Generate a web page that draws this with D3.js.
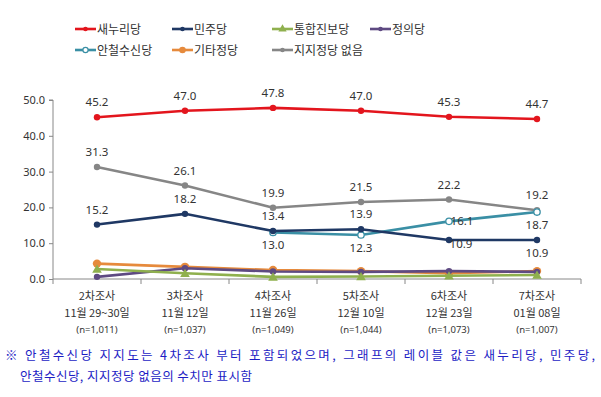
<!DOCTYPE html>
<html><head><meta charset="utf-8">
<script src="https://cdn.jsdelivr.net/npm/d3@7"></script>
<style>
body{margin:0;background:#fff;}
svg{display:block;font-family:"Noto Sans CJK KR","Noto Sans",sans-serif;}
</style></head><body>
<svg id="c" width="601" height="397"></svg>
<script>
const surveys = ["2차조사","3차조사","4차조사","5차조사","6차조사","7차조사"];
const dates = ["11월 29~30일","11월 12일","11월 26일","12월 10일","12월 23일","01월 08일"];
const samples = ["(n=1,011)","(n=1,037)","(n=1,049)","(n=1,044)","(n=1,073)","(n=1,007)"];
const yTicks = [0,10,20,30,40,50];

const saenuri = [45.2,47.0,47.8,47.0,45.3,44.7];
const minju = [15.2,18.2,13.4,13.9,10.9,10.9];
const tonghap = [2.8,1.6,0.6,0.7,0.9,1.1];
const jeongui = [0.6,3.0,2.1,2.0,2.2,2.0];
const ahn = [null,null,13.0,12.3,16.1,18.7];
const others = [4.3,3.4,2.5,2.2,1.6,2.2];
const noParty = [31.3,26.1,19.9,21.5,22.2,19.2];

const footnote1 = "※ 안철수신당 지지도는 4차조사 부터 포함되었으며, 그래프의 레이블 값은 새누리당, 민주당,";
const footnote2 = "안철수신당, 지지정당 없음의 수치만 표시함";

const series = [
  {name:"새누리당", values:saenuri, color:"#e3151d", marker:"dot", labels:["a","a","a","a","a","a"]},
  {name:"민주당", values:minju, color:"#1f3864", marker:"dot", labels:["a","a","a","a","br","b"]},
  {name:"통합진보당", values:tonghap, color:"#8fb04e", marker:"tri"},
  {name:"정의당", values:jeongui, color:"#5e4a82", marker:"dot"},
  {name:"안철수신당", values:ahn, color:"#3a8fa5", marker:"open", labels:[null,null,"b","b","r","b"]},
  {name:"기타정당", values:others, color:"#e68a3c", marker:"big"},
  {name:"지지정당 없음", values:noParty, color:"#868686", marker:"dot", labels:["a","a","a","a","a","a"]}
];
const drawOrder = [6,5,3,2,4,1,0];

const svg = d3.select("#c");
const x = d3.scaleBand().domain(surveys).range([53,581]);
const y = d3.scaleLinear().domain([0,50]).range([279,100]);

// y axis
const ya = svg.append("g").attr("transform","translate(53,0)")
  .call(d3.axisLeft(y).tickValues(yTicks).tickFormat(d3.format(".1f")).tickSize(4).tickPadding(4));
ya.select(".domain").attr("stroke","#888").attr("d","M-4,"+y(50)+"H0V"+y(0));
ya.selectAll(".tick line").attr("stroke","#888");
ya.selectAll("text").attr("fill","#333").style("font-size","11px").style("font-family","Noto Sans, sans-serif");

// x axis
const xa = svg.append("g").attr("transform","translate(0,279)");
xa.append("line").attr("x1",53).attr("x2",581).attr("stroke","#888");
const bounds = surveys.map(s=>x(s)).concat([x.range()[1]]);
xa.selectAll(".tk").data(bounds).join("line").attr("x1",d=>d).attr("x2",d=>d).attr("y1",0).attr("y2",5).attr("stroke","#888");
const xl = xa.selectAll(".xl").data(surveys).join("g").attr("transform",d=>`translate(${x(d)+x.bandwidth()/2},0)`);
xl.append("text").attr("y",21).attr("text-anchor","middle").attr("fill","#333").style("font-size","11px").text(d=>d);
xl.append("text").attr("y",38).attr("text-anchor","middle").attr("fill","#333").style("font-size","11px").text((d,i)=>dates[i]);
xl.append("text").attr("y",54).attr("text-anchor","middle").attr("fill","#333").style("font-size","9.5px").style("font-family","Noto Sans, sans-serif").text((d,i)=>samples[i]);

const cx = i => x(surveys[i]) + x.bandwidth()/2;
const line = d3.line().defined(d=>d.v!=null).x(d=>cx(d.i)).y(d=>y(d.v));

function drawMarker(g, s, px, py){
  if(s.marker==="dot") g.append("circle").attr("cx",px).attr("cy",py).attr("r",3.2).attr("fill",s.color);
  else if(s.marker==="big") g.append("circle").attr("cx",px).attr("cy",py).attr("r",4.2).attr("fill",s.color);
  else if(s.marker==="open") g.append("circle").attr("cx",px).attr("cy",py).attr("r",3.2).attr("fill","#fff").attr("stroke",s.color).attr("stroke-width",1.3);
  else if(s.marker==="tri") g.append("path").attr("d",d3.symbol(d3.symbolTriangle,40)()).attr("transform",`translate(${px},${py+1})`).attr("fill",s.color);
}

drawOrder.forEach(k=>{
  const s = series[k];
  const pts = s.values.map((v,i)=>({v,i}));
  const g = svg.append("g");
  g.append("path").datum(pts).attr("d",line).attr("fill","none").attr("stroke",s.color).attr("stroke-width",2.6);
  pts.filter(d=>d.v!=null).forEach(d=>drawMarker(g,s,cx(d.i),y(d.v)));
});

// labels
series.forEach(s=>{
  if(!s.labels) return;
  s.values.forEach((v,i)=>{
    const pos = s.labels[i];
    if(v==null||!pos) return;
    let px = cx(i), py = y(v);
    let dx=0, dy=0;
    if(pos==="a"){dy=-11;}
    else if(pos==="b"){dy=17;}
    else if(pos==="r"){dx=13; dy=4;}
    else if(pos==="br"){dx=12; dy=8;}
    svg.append("text").attr("x",px+dx).attr("y",py+dy).attr("text-anchor","middle")
      .attr("fill","#333").style("font-size","11.5px").style("font-family","Noto Sans, sans-serif")
      .text(d3.format(".1f")(v));
  });
});

// legend
const legPos = [[75,29],[172,29],[272,29],[370,29],[75,50],[172,50],[272,50]];
series.forEach((s,k)=>{
  const [lx,ly] = legPos[k];
  const g = svg.append("g");
  g.append("line").attr("x1",lx).attr("x2",lx+21).attr("y1",ly).attr("y2",ly).attr("stroke",s.color).attr("stroke-width",2.6);
  const m = Object.assign({},s, {marker: s.marker==="big"?"big":s.marker});
  if(s.marker==="tri") g.append("path").attr("d",d3.symbol(d3.symbolTriangle,30)()).attr("transform",`translate(${lx+10.5},${ly})`).attr("fill",s.color);
  else if(s.marker==="open") g.append("circle").attr("cx",lx+10.5).attr("cy",ly).attr("r",2.6).attr("fill","#fff").attr("stroke",s.color).attr("stroke-width",1.2);
  else g.append("circle").attr("cx",lx+10.5).attr("cy",ly).attr("r",s.marker==="big"?3.3:2.3).attr("fill",s.color);
  g.append("text").attr("x",lx+22).attr("y",ly+4.5).attr("fill","#333").style("font-size","12px").text(s.name);
});

// footnote
svg.append("text").attr("x",5).attr("y",360).attr("fill","#1c1cc4").style("font-size","12.5px")
  .attr("textLength",590).attr("lengthAdjust","spacing").text(footnote1);
svg.append("text").attr("x",20).attr("y",381).attr("fill","#1c1cc4").style("font-size","12.5px")
  .attr("textLength",232).attr("lengthAdjust","spacing").text(footnote2);
</script>
</body></html>
